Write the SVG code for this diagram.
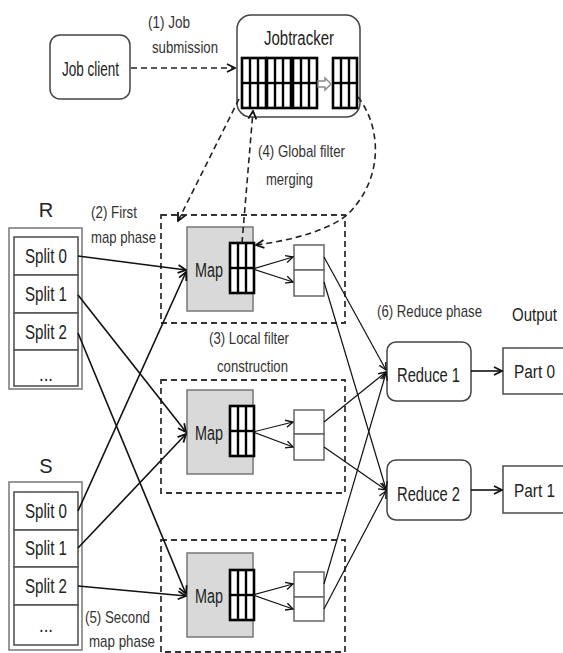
<svg xmlns="http://www.w3.org/2000/svg" xmlns:xlink="http://www.w3.org/1999/xlink" width="563" height="653" viewBox="0 0 563 653">
<style>
text{font-family:"Liberation Sans Narrow","Liberation Sans",Arial,sans-serif;fill:#222}
.lbl{font-size:17px;fill:#333}
.nt{font-size:20px}
.rt{font-size:16px}
.rbox{fill:#fff;stroke:#444;stroke-width:1.5}
.row{fill:#fff;stroke:#555;stroke-width:1.6}
.outer{fill:#fff;stroke:#777;stroke-width:1.5}
.map{fill:#d9d9d9;stroke:#777;stroke-width:1.5}
.bkt{fill:#fff;stroke:#666;stroke-width:1.5}
.dbox{fill:none;stroke:#333;stroke-width:1.8;stroke-dasharray:6 4}
.dash{fill:none;stroke:#222;stroke-width:1.6;stroke-dasharray:6 4}
.sol{fill:none;stroke:#111;stroke-width:1.6}
.thin{fill:none;stroke:#111;stroke-width:1.2}
</style>
<defs>
<marker id="ah" viewBox="0 0 10 10" refX="9" refY="5" markerWidth="10" markerHeight="10" markerUnits="userSpaceOnUse" orient="auto">
<path d="M1,1 L9,5 L1,9" fill="none" stroke="#111" stroke-width="1.8"/>
</marker>
<marker id="ahs" viewBox="0 0 10 10" refX="9" refY="5" markerWidth="9" markerHeight="9" markerUnits="userSpaceOnUse" orient="auto">
<path d="M1,1 L9,5 L1,9" fill="none" stroke="#111" stroke-width="1.5"/>
</marker>
<g id="grid">
<rect x="0" y="0" width="24" height="50" fill="#fff" stroke="#000" stroke-width="2.6"/>
<line x1="8" y1="0" x2="8" y2="50" stroke="#000" stroke-width="2.4"/>
<line x1="16" y1="0" x2="16" y2="50" stroke="#000" stroke-width="2.4"/>
<line x1="0" y1="25" x2="24" y2="25" stroke="#000" stroke-width="2.4"/>
</g>
</defs>

<g id="phase-boxes">
<rect class="dbox" x="161" y="215" width="184" height="108"/>
<rect class="dbox" x="161" y="380" width="184" height="113"/>
<rect class="dbox" x="161" y="540" width="184" height="112"/>
</g>

<g id="job-client">
<rect class="rbox" x="50" y="35" width="80" height="64" rx="10"/>
<text class="nt" x="62" y="76" textLength="57" lengthAdjust="spacingAndGlyphs">Job client</text>
</g>

<g id="jobtracker">
<rect class="rbox" x="237" y="15" width="123" height="102" rx="14"/>
<text class="nt" x="264" y="45" textLength="70" lengthAdjust="spacingAndGlyphs">Jobtracker</text>
<use xlink:href="#grid" x="242" y="58"/>
<use xlink:href="#grid" x="267" y="58"/>
<use xlink:href="#grid" x="293" y="58"/>
<use xlink:href="#grid" x="333" y="58"/>
<polygon points="318,81 325,81 325,78 331,84 325,90 325,87 318,87" fill="#fff" stroke="#888" stroke-width="1.4"/>
</g>

<g id="R">
<text class="nt" x="46" y="217" text-anchor="middle">R</text>
<rect class="outer" x="9" y="228" width="73" height="161"/>
<rect class="row" x="14" y="237" width="64" height="38"/>
<rect class="row" x="14" y="275" width="64" height="38"/>
<rect class="row" x="14" y="313" width="64" height="37"/>
<rect class="row" x="14" y="350" width="64" height="36"/>
<text class="nt" x="25" y="263" textLength="42" lengthAdjust="spacingAndGlyphs">Split 0</text>
<text class="nt" x="25" y="301" textLength="42" lengthAdjust="spacingAndGlyphs">Split 1</text>
<text class="nt" x="25" y="339" textLength="42" lengthAdjust="spacingAndGlyphs">Split 2</text>
<text class="nt" x="39" y="381" textLength="14" lengthAdjust="spacingAndGlyphs">...</text>
</g>

<g id="S">
<text class="nt" x="46" y="473" text-anchor="middle">S</text>
<rect class="outer" x="9" y="482" width="73" height="168"/>
<rect class="row" x="14" y="492" width="64" height="38"/>
<rect class="row" x="14" y="530" width="64" height="37"/>
<rect class="row" x="14" y="567" width="64" height="38"/>
<rect class="row" x="14" y="605" width="64" height="40"/>
<text class="nt" x="25" y="518" textLength="42" lengthAdjust="spacingAndGlyphs">Split 0</text>
<text class="nt" x="25" y="555" textLength="42" lengthAdjust="spacingAndGlyphs">Split 1</text>
<text class="nt" x="25" y="593" textLength="42" lengthAdjust="spacingAndGlyphs">Split 2</text>
<text class="nt" x="39" y="632" textLength="14" lengthAdjust="spacingAndGlyphs">...</text>
</g>

<g id="map1">
<rect class="map" x="187" y="227" width="66" height="84"/>
<text class="nt" x="195" y="277" textLength="28" lengthAdjust="spacingAndGlyphs">Map</text>
<use xlink:href="#grid" x="230" y="243"/>
</g>
<g id="map2">
<rect class="map" x="187" y="390" width="66" height="84"/>
<text class="nt" x="195" y="440" textLength="28" lengthAdjust="spacingAndGlyphs">Map</text>
<use xlink:href="#grid" x="230" y="406"/>
</g>
<g id="map3">
<rect class="map" x="187" y="553" width="66" height="84"/>
<text class="nt" x="195" y="603" textLength="28" lengthAdjust="spacingAndGlyphs">Map</text>
<use xlink:href="#grid" x="230" y="570"/>
</g>

<g id="bucket1">
<rect class="bkt" x="294" y="245" width="30" height="25"/>
<rect class="bkt" x="294" y="270" width="30" height="26"/>
</g>
<g id="bucket2">
<rect class="bkt" x="294" y="410" width="30" height="24"/>
<rect class="bkt" x="294" y="434" width="30" height="26"/>
</g>
<g id="bucket3">
<rect class="bkt" x="294" y="572" width="30" height="25"/>
<rect class="bkt" x="294" y="597" width="30" height="24"/>
</g>

<g id="reduce1">
<rect class="rbox" x="387" y="342" width="84" height="59" rx="9"/>
<text class="nt" x="397" y="382" textLength="63" lengthAdjust="spacingAndGlyphs">Reduce 1</text>
</g>
<g id="reduce2">
<rect class="rbox" x="387" y="460" width="84" height="60" rx="9"/>
<text class="nt" x="397" y="501" textLength="63" lengthAdjust="spacingAndGlyphs">Reduce 2</text>
</g>

<g id="part0">
<rect x="503" y="348" width="70" height="46" fill="#fff" stroke="#555" stroke-width="1.6"/>
<text class="rt" x="514" y="378" textLength="41" lengthAdjust="spacingAndGlyphs" transform="translate(0,-75.6) scale(1,1.2)">Part 0</text>
</g>
<g id="part1">
<rect x="503" y="466" width="70" height="47" fill="#fff" stroke="#555" stroke-width="1.6"/>
<text class="rt" x="514" y="497" textLength="41" lengthAdjust="spacingAndGlyphs" transform="translate(0,-99.4) scale(1,1.2)">Part 1</text>
</g>

<g id="labels">
<text class="lbl" x="148" y="28" textLength="42" lengthAdjust="spacingAndGlyphs">(1) Job</text>
<text class="lbl" x="152" y="53" textLength="66" lengthAdjust="spacingAndGlyphs">submission</text>
<text class="lbl" x="258" y="157" textLength="87" lengthAdjust="spacingAndGlyphs">(4) Global filter</text>
<text class="lbl" x="266" y="185" textLength="47" lengthAdjust="spacingAndGlyphs">merging</text>
<text class="lbl" x="91" y="218" textLength="46" lengthAdjust="spacingAndGlyphs">(2) First</text>
<text class="lbl" x="91" y="243" textLength="65" lengthAdjust="spacingAndGlyphs">map phase</text>
<text class="lbl" x="209" y="344" textLength="80" lengthAdjust="spacingAndGlyphs">(3) Local filter</text>
<text class="lbl" x="217" y="372" textLength="71" lengthAdjust="spacingAndGlyphs">construction</text>
<text class="lbl" x="377" y="317" textLength="105" lengthAdjust="spacingAndGlyphs">(6) Reduce phase</text>
<text class="rt" x="512" y="321" textLength="45" lengthAdjust="spacingAndGlyphs" transform="translate(0,-64.2) scale(1,1.2)">Output</text>
<text class="lbl" x="85" y="623" textLength="65" lengthAdjust="spacingAndGlyphs">(5) Second</text>
<text class="lbl" x="89" y="647" textLength="66" lengthAdjust="spacingAndGlyphs">map phase</text>
</g>

<g id="connectors">
<line class="dash" x1="131" y1="68" x2="235" y2="68" marker-end="url(#ah)"/>
<line class="dash" x1="239" y1="99" x2="178" y2="221" marker-end="url(#ah)"/>
<line class="dash" x1="242" y1="243" x2="253" y2="111" marker-end="url(#ah)"/>
<path class="dash" d="M358,97 C380,125 385,175 350,212 C335,228 295,240 256,245" marker-end="url(#ah)"/>

<line class="sol" x1="78" y1="256" x2="186" y2="270" marker-end="url(#ah)"/>
<line class="sol" x1="78" y1="295" x2="186" y2="432" marker-end="url(#ah)"/>
<line class="sol" x1="78" y1="333" x2="186" y2="594" marker-end="url(#ah)"/>
<line class="sol" x1="78" y1="511" x2="186" y2="272" marker-end="url(#ah)"/>
<line class="sol" x1="78" y1="548" x2="186" y2="434" marker-end="url(#ah)"/>
<line class="sol" x1="78" y1="586" x2="186" y2="596" marker-end="url(#ah)"/>

<line class="thin" x1="253" y1="269" x2="293" y2="257" marker-end="url(#ahs)"/>
<line class="thin" x1="253" y1="269" x2="293" y2="282" marker-end="url(#ahs)"/>
<line class="thin" x1="253" y1="432" x2="293" y2="422" marker-end="url(#ahs)"/>
<line class="thin" x1="253" y1="432" x2="293" y2="447" marker-end="url(#ahs)"/>
<line class="thin" x1="253" y1="595" x2="293" y2="584" marker-end="url(#ahs)"/>
<line class="thin" x1="253" y1="595" x2="293" y2="609" marker-end="url(#ahs)"/>

<line class="thin" x1="324" y1="257" x2="386" y2="370" marker-end="url(#ahs)"/>
<line class="thin" x1="324" y1="282" x2="386" y2="489" marker-end="url(#ahs)"/>
<line class="thin" x1="324" y1="422" x2="386" y2="372" marker-end="url(#ahs)"/>
<line class="thin" x1="324" y1="447" x2="386" y2="490" marker-end="url(#ahs)"/>
<line class="thin" x1="324" y1="584" x2="386" y2="373" marker-end="url(#ahs)"/>
<line class="thin" x1="324" y1="609" x2="386" y2="491" marker-end="url(#ahs)"/>

<line class="sol" x1="471" y1="371" x2="502" y2="371" stroke-width="1.8" marker-end="url(#ah)"/>
<line class="sol" x1="471" y1="490" x2="502" y2="490" stroke-width="1.8" marker-end="url(#ah)"/>
</g>
</svg>
